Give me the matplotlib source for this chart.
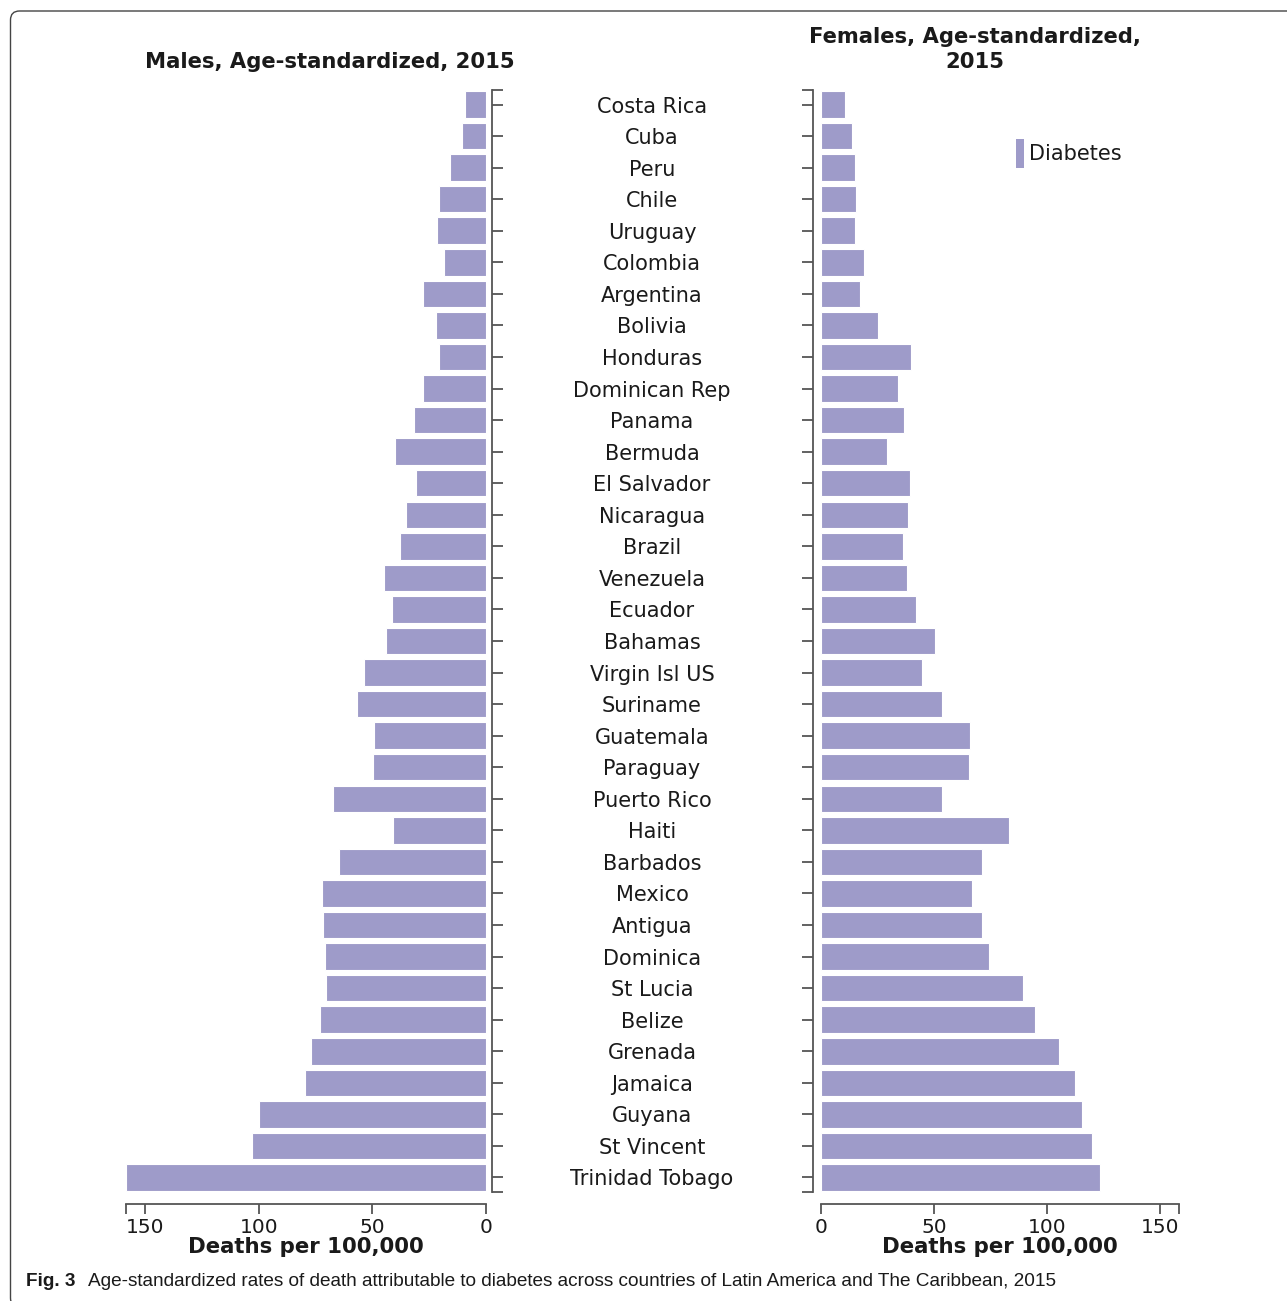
import matplotlib

matplotlib.use("Agg")
import matplotlib.pyplot as plt
import matplotlib.transforms as mtransforms
from matplotlib.patches import FancyBboxPatch, Patch
import numpy as np

# Country order (top to bottom) and age-standardized death rates per 100,000
COUNTRIES = [
    "Costa Rica", "Cuba", "Peru", "Chile", "Uruguay", "Colombia", "Argentina",
    "Bolivia", "Honduras", "Dominican Rep", "Panama", "Bermuda", "El Salvador",
    "Nicaragua", "Brazil", "Venezuela", "Ecuador", "Bahamas", "Virgin Isl US",
    "Suriname", "Guatemala", "Paraguay", "Puerto Rico", "Haiti", "Barbados",
    "Mexico", "Antigua", "Dominica", "St Lucia", "Belize", "Grenada", "Jamaica",
    "Guyana", "St Vincent", "Trinidad Tobago",
]
MALES = [
    9.1, 10.5, 15.9, 20.9, 21.7, 18.6, 27.8, 21.9, 20.6, 27.8, 31.8, 40.1, 30.9,
    35.2, 37.7, 44.8, 41.4, 44.2, 53.5, 56.9, 49.3, 49.6, 67.3, 41.1, 64.5,
    72.0, 71.7, 70.7, 70.4, 73.2, 77.0, 79.7, 99.7, 103.1, 158.2,
]
FEMALES = [
    10.6, 13.5, 15.0, 15.5, 14.9, 19.1, 17.2, 25.0, 39.7, 34.0, 36.9, 29.3, 39.4,
    38.4, 36.2, 38.0, 42.1, 50.3, 44.6, 53.4, 65.9, 65.7, 53.7, 83.0, 71.1,
    67.0, 71.1, 74.5, 89.2, 94.9, 105.5, 112.6, 115.7, 119.7, 123.5,
]
X_TICKS = [0, 50, 100, 150]
X_MAX = 158.4

BAR_COLOR = "#9e9bc9"
AXIS_COLOR = "#555555"
TEXT_COLOR = "#1a1a1a"

W, H = 1287, 1301
plt.rcParams["font.family"] = ["DejaVu Sans"]
plt.rcParams["text.color"] = TEXT_COLOR

fig = plt.figure(figsize=(W / 100, H / 100), dpi=100)


def fx(px):
    return px / W


def fy(py):
    return 1 - py / H


y = np.arange(len(COUNTRIES))
y_lo, y_hi = -0.46, len(COUNTRIES) - 1 + 0.46
ax_bottom, ax_top = fy(1192), fy(90)

ax_m = fig.add_axes([fx(126), ax_bottom, fx(486) - fx(126), ax_top - ax_bottom])
ax_f = fig.add_axes([fx(821), ax_bottom, fx(1179) - fx(821), ax_top - ax_bottom])


def style_axis(ax, side):
    ax.set_ylim(y_hi, y_lo)
    for s in ("top", "left", "right", "bottom"):
        ax.spines[s].set_visible(False)
    ax.spines[side].set_visible(True)
    ax.spines["bottom"].set_visible(True)
    ax.spines[side].set_position(("outward", 4.5 if side == "right" else 5.8))
    ax.spines["bottom"].set_position(("outward", 8.6))
    for s in (side, "bottom"):
        ax.spines[s].set_color(AXIS_COLOR)
        ax.spines[s].set_linewidth(1.3)
    ax.yaxis.set_ticks_position(side)
    ax.set_yticks(y)
    ax.set_yticks([y_lo, y_hi], minor=True)
    ax.set_yticklabels([])
    ax.tick_params(axis="y", which="both", length=8, width=1.3, color=AXIS_COLOR)
    ax.set_xticks(X_TICKS)
    ax.set_xticks([X_MAX], minor=True)
    ax.tick_params(axis="x", which="both", length=7, width=1.3, color=AXIS_COLOR,
                   labelsize=14.5, labelcolor=TEXT_COLOR, pad=3)
    ax.set_xlabel("Deaths per 100,000", fontsize=15.3, fontweight="bold",
                  color=TEXT_COLOR, labelpad=0)


ax_m.barh(y, MALES, height=0.84, color=BAR_COLOR, edgecolor="white", linewidth=0.8)
ax_m.set_xlim(X_MAX, 0)
style_axis(ax_m, "right")

ax_f.barh(y, FEMALES, height=0.84, color=BAR_COLOR, edgecolor="white", linewidth=0.8)
ax_f.set_xlim(0, X_MAX)
style_axis(ax_f, "left")

# country names sit in the gap between the two panels
trans = mtransforms.blended_transform_factory(fig.transFigure, ax_m.transData)
for yi, name in zip(y, COUNTRIES):
    ax_m.text(fx(652), yi, name, transform=trans, ha="center", va="center_baseline",
              fontsize=15, color=TEXT_COLOR, clip_on=False)

fig.text(fx(330), fy(62), "Males, Age-standardized, 2015", ha="center", va="center",
         fontsize=15.2, fontweight="bold")
fig.text(fx(975), fy(49.5), "Females, Age-standardized,\n2015", ha="center", va="center",
         fontsize=15.2, fontweight="bold", linespacing=1.3)

ax_f.legend(handles=[Patch(facecolor=BAR_COLOR, edgecolor="none", label="Diabetes")],
            loc="upper left", bbox_to_anchor=(fx(1006), fy(129)),
            bbox_transform=fig.transFigure, frameon=False, fontsize=15,
            handlelength=0.35, handleheight=1.7, handletextpad=0.25, borderpad=0)

CAPTION_FONT = ["Liberation Sans", "DejaVu Sans"]
fig.text(fx(26), fy(1281), "Fig. 3", ha="left", va="center", fontsize=13.6,
         fontweight="bold", family=CAPTION_FONT)
fig.text(fx(88), fy(1281),
         "Age-standardized rates of death attributable to diabetes across countries "
         "of Latin America and The Caribbean, 2015",
         ha="left", va="center", fontsize=13.7, family=CAPTION_FONT)

# rounded page frame (right and bottom edges run off the canvas)
frame = FancyBboxPatch((10.5, -6), W + 60, H - 11 + 6,
                       boxstyle="round,pad=0,rounding_size=9",
                       transform=None, facecolor="none",
                       edgecolor="#444444", linewidth=1.0, clip_on=False)
fig.patches.append(frame)

fig.savefig("out.png", dpi=100)
